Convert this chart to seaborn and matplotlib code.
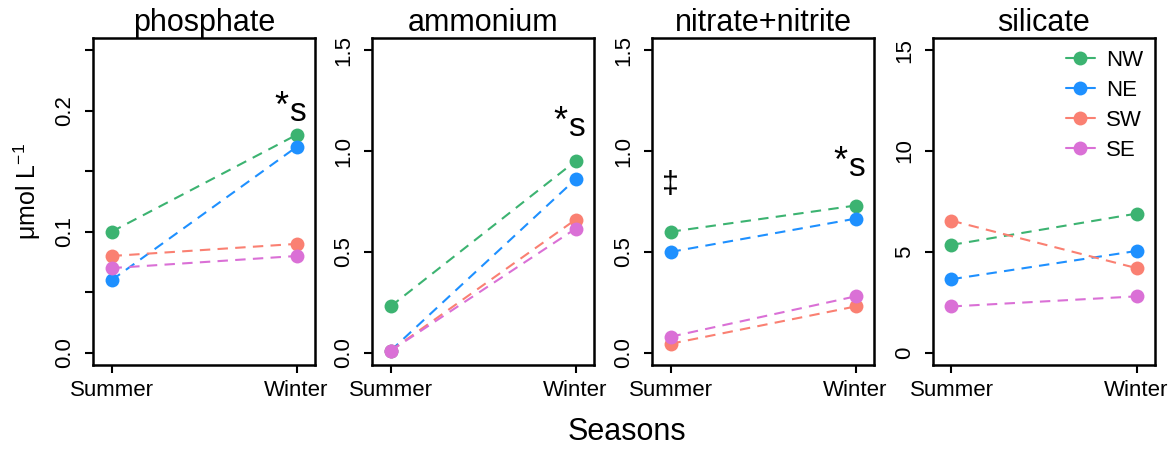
import matplotlib
matplotlib.use("Agg")
import matplotlib.pyplot as plt
import seaborn as sns
import pandas as pd
from matplotlib.lines import Line2D

# ---------------- data ----------------
seasons = ["Summer", "Winter"]
regions = ["NW", "NE", "SW", "SE"]
region_colors = ["#3CB371", "#1E90FF", "#FA8072", "#DA70D6"]
nutrients = ["phosphate", "ammonium", "nitrate+nitrite", "silicate"]

phosphate = {"NW": [0.10, 0.18], "NE": [0.06, 0.17], "SW": [0.08, 0.09], "SE": [0.07, 0.08]}
ammonium = {"NW": [0.23, 0.95], "NE": [0.01, 0.86], "SW": [0.01, 0.66], "SE": [0.01, 0.615]}
nitrate_nitrite = {"NW": [0.60, 0.73], "NE": [0.50, 0.665], "SW": [0.045, 0.23], "SE": [0.08, 0.28]}
silicate = {"NW": [5.35, 6.9], "NE": [3.65, 5.05], "SW": [6.55, 4.2], "SE": [2.3, 2.8]}
values = [phosphate, ammonium, nitrate_nitrite, silicate]

y_max = [0.25, 1.5, 1.5, 15]
y_ticks = [[0, 0.05, 0.10, 0.15, 0.20, 0.25], [0, 0.5, 1.0, 1.5], [0, 0.5, 1.0, 1.5], [0, 5, 10, 15]]
y_ticklabels = [["0.0", "", "0.1", "", "0.2", ""], ["0.0", "0.5", "1.0", "1.5"],
                ["0.0", "0.5", "1.0", "1.5"], ["0", "5", "10", "15"]]

# significance markers ("*s" at Winter, "‡" at Summer)
sig_s_y = [0.1915, 1.074, 0.876, None]
dagger_y = [None, None, 0.83, None]

# ---------------- style ----------------
sns.set_style("ticks")
plt.rcParams["font.family"] = ["Liberation Sans", "DejaVu Sans"]
plt.rcParams["mathtext.fontset"] = "custom"
plt.rcParams["mathtext.rm"] = "Liberation Sans"
plt.rcParams["mathtext.default"] = "regular"
for k in ["text.color", "axes.labelcolor", "xtick.color", "ytick.color", "axes.edgecolor"]:
    plt.rcParams[k] = "black"

palette = dict(zip(regions, region_colors))

fig = plt.figure(figsize=(11.75, 4.51), dpi=100)
W, H = 1175, 451
lefts = [93, 372, 652, 933]
ax_w = 222
ax_top, ax_bot = 38, 365

for i, name in enumerate(nutrients):
    ax = fig.add_axes([lefts[i] / W, 1 - ax_bot / H, ax_w / W, (ax_bot - ax_top) / H])
    rows = []
    for r in regions:
        for s, v in zip(seasons, values[i][r]):
            rows.append({"Season": s, "Region": r, "value": v})
    df = pd.DataFrame(rows)
    sns.lineplot(data=df, x="Season", y="value", hue="Region", hue_order=regions,
                 palette=palette, marker="o", markersize=10, markeredgewidth=0,
                 linewidth=1.5, dashes=(5, 3.5), legend=False, ax=ax, sort=False)

    ym = y_max[i]
    ax.set_ylim(-0.04 * ym, 1.04 * ym)
    ax.set_xlim(-0.1, 1.1)
    ax.set_yticks(y_ticks[i], y_ticklabels[i], rotation=90, va="center")
    ax.set_xticks([0, 1], seasons)
    ax.tick_params(axis="both", length=6, width=1.5, color="black", labelsize=16,
                   labelcolor="black")
    ax.tick_params(axis="y", pad=7)
    ax.tick_params(axis="x", pad=5)
    for sp in ax.spines.values():
        sp.set_visible(True)
        sp.set_linewidth(1.8)
        sp.set_color("black")
    ax.set_xlabel("")
    ax.set_ylabel("")
    ax.set_title(name, fontsize=22, pad=1)

    if sig_s_y[i] is not None:
        ax.annotate("s", xy=(1, sig_s_y[i]), xytext=(1, 0), textcoords="offset points",
                    ha="center", va="baseline", fontsize=24)
        ax.annotate("*", xy=(1, sig_s_y[i]), xytext=(-11, 3), textcoords="offset points",
                    ha="center", va="baseline", fontsize=26)
    if dagger_y[i] is not None:
        ax.annotate("\u2021", xy=(0, dagger_y[i]), xytext=(0, 0), textcoords="offset points",
                    ha="center", va="center", fontsize=22)

    if i == 0:
        ax.set_ylabel(r"μmol L$^{-1}$", fontsize=18)
        ax.yaxis.set_label_coords(-0.225, 0.53)

    if i == 3:
        handles = [Line2D([], [], color=c, marker="o", markersize=10, markeredgewidth=0,
                          linewidth=1.5, linestyle="-") for c in region_colors]
        ax.legend(handles, regions, loc="upper right", frameon=False, fontsize=16,
                  handlelength=1.3, handletextpad=0.5, labelspacing=0.4,
                  borderaxespad=0.45, borderpad=0.1)

fig.text(627 / W, 1 - 432 / H, "Seasons", ha="center", va="center", fontsize=22)

fig.savefig("out.png", dpi=100)
